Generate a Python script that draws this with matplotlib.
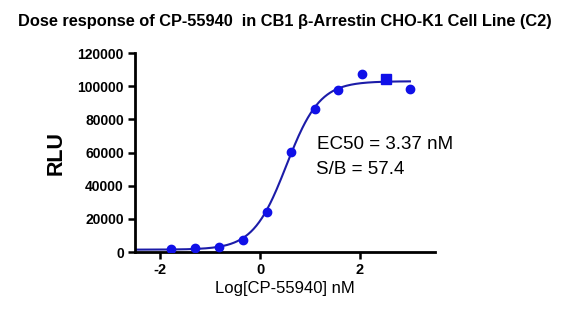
import numpy as np
from matplotlib import pyplot as plt

plt.rcParams['font.family'] = ['Liberation Sans', 'DejaVu Sans']

# log10 concentration (nM), 3-fold dilution series
log_conc = [-1.772, -1.295, -0.818, -0.340, 0.137, 0.614, 1.091, 1.569, 2.046, 2.523, 3.000]
rlu = [1700, 2300, 3200, 7300, 24000, 60300, 86300, 98000, 107200, 104300, 98300]
marker_kind = ['o', 'o', 'o', 'o', 'o', 'o', 'o', 'o', 'o', 's', 'o']

# 4PL fit parameters
fit_bottom = 1500
fit_top = 103000
fit_log_ec50 = np.log10(3.37)
fit_hill = 1.3

title = "Dose response of CP-55940  in CB1 \u03b2-Arrestin CHO-K1 Cell Line (C2)"
yticks = [0, 20000, 40000, 60000, 80000, 100000, 120000]
xticks = [-2, 0, 2]

fig = plt.figure(figsize=(5.7, 3.14), dpi=100)
ax = fig.add_axes([0.237, 0.197, 0.526, 0.634])

xs = np.linspace(-2.5, 3.0, 300)
ys = fit_bottom + (fit_top - fit_bottom) / (1 + 10 ** ((fit_log_ec50 - xs) * fit_hill))
ax.plot(xs, ys, color='#1c1ca8', lw=1.5, zorder=2)

for x, y, m in zip(log_conc, rlu, marker_kind):
    ax.plot(x, y, marker=m, color='#1010e8', ms=6 if m == 'o' else 6.5, ls='none', zorder=3)

ax.set_xlim(-2.5, 3.5)
ax.set_ylim(0, 120000)
ax.set_xticks(xticks)
ax.set_yticks(yticks)
ax.set_xticklabels([str(t) for t in xticks], fontweight='bold', fontsize=10.5)
ax.set_yticklabels([str(t) for t in yticks], fontweight='bold', fontsize=10)
ax.tick_params(direction='out', length=5, width=1.8, pad=3)

for s in ['top', 'right']:
    ax.spines[s].set_visible(False)
for s in ['left', 'bottom']:
    ax.spines[s].set_linewidth(2)

ax.set_ylabel('RLU', fontsize=15.5, fontweight='bold', labelpad=8)
ax.set_xlabel('Log[CP-55940] nM', fontsize=12, labelpad=3)

ax.text(1.15, 62000, 'EC50 = 3.37 nM', fontsize=13.5)
ax.text(1.12, 47000, 'S/B = 57.4', fontsize=13.5)

fig.text(0.5, 0.93, title, ha='center', va='center', fontsize=11.8, fontweight='bold')

fig.savefig('out.png', dpi=100)
